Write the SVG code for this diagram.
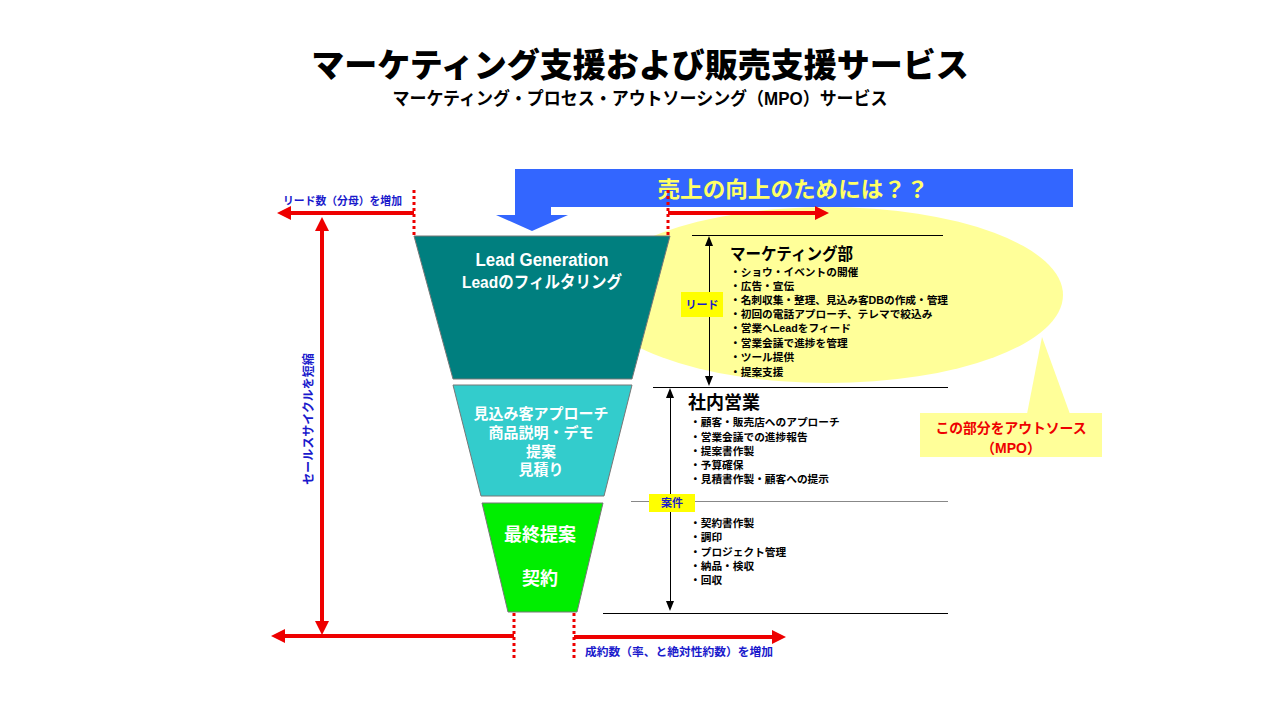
<svg xmlns="http://www.w3.org/2000/svg" width="1280" height="720" viewBox="0 0 1280 720">
<defs>
<style>
text{font-family:"Liberation Sans","Noto Sans CJK JP",sans-serif;font-weight:bold;dominant-baseline:central}
.c{text-anchor:middle}
.w{fill:#ffffff}
.k{fill:#000000}
.b{fill:#1a1acc}
.item{font-size:10.7px;fill:#000}
.red{stroke:#ee0000;stroke-width:4;fill:none}
.dot{stroke:#ee0000;stroke-width:3;stroke-dasharray:3 3;fill:none}
.rh{fill:#ee0000}
.ln{stroke:#000;stroke-width:1;fill:none;shape-rendering:crispEdges}
.fun{stroke:#777;stroke-width:1}
</style>
</defs>
<rect width="1280" height="720" fill="#ffffff"/>

<g id="title">
<text class="c k" x="640" y="65" font-size="33" font-weight="900" style="font-weight:900">マーケティング支援および販売支援サービス</text>
<text class="c k" x="640" y="99" font-size="18" textLength="495" lengthAdjust="spacingAndGlyphs">マーケティング・プロセス・アウトソーシング（MPO）サービス</text>
</g>

<g id="mpo-ellipse">
<polygon points="1042,337 1027,414 1070,414" fill="#ffff99"/>
<ellipse cx="828" cy="295" rx="235" ry="88" fill="#ffff99"/>
<rect x="920" y="413" width="182" height="44" fill="#ffff99"/>
<text class="c" x="1011" y="428" font-size="14" fill="#ee0000" textLength="151" lengthAdjust="spacingAndGlyphs">この部分をアウトソース</text>
<text class="c" x="1011" y="448" font-size="14" fill="#ee0000">（MPO）</text>
</g>

<g id="question-arrow">
<polygon points="515,169 1073,169 1073,207 551,207 551,215 568,215 532,231 496,215 515,215" fill="#3366ff"/>
<text class="c" x="793" y="189" font-size="22" fill="#ffff66" textLength="271" lengthAdjust="spacingAndGlyphs">売上の向上のためには？？</text>
</g>

<g id="funnel-lead">
<polygon class="fun" points="414,236 670,236 632,379 453,379" fill="#007f7f"/>
<text class="c w" x="542" y="260" font-size="18" textLength="133" lengthAdjust="spacingAndGlyphs">Lead Generation</text>
<text class="c w" x="542" y="282" font-size="17" textLength="160" lengthAdjust="spacingAndGlyphs">Leadのフィルタリング</text>
</g>

<g id="funnel-approach">
<polygon class="fun" points="453,385 632,385 604,496 481,496" fill="#33cccc"/>
<text class="c w" x="541" y="413" font-size="15">見込み客アプローチ</text>
<text class="c w" x="541" y="432" font-size="15">商品説明・デモ</text>
<text class="c w" x="541" y="451" font-size="15">提案</text>
<text class="c w" x="541" y="469" font-size="15">見積り</text>
</g>

<g id="funnel-contract">
<polygon class="fun" points="482,503 603,503 577,612 508,612" fill="#00ee00"/>
<text class="c w" x="540" y="535" font-size="18">最終提案</text>
<text class="c w" x="540" y="579" font-size="18">契約</text>
</g>

<g id="connectors">
<path class="dot" d="M414,190 V236"/>
<path class="red" d="M414,213 H288"/>
<polygon class="rh" points="277,213 291,206 291,220"/>
<path class="dot" d="M668,190 V236"/>
<path class="red" d="M668,213 H818"/>
<polygon class="rh" points="829,213 815,206 815,220"/>
<path class="red" d="M322,229 V623"/>
<polygon class="rh" points="322,217 315,231 329,231"/>
<polygon class="rh" points="322,635 315,621 329,621"/>
<path class="red" d="M514,636 H283"/>
<polygon class="rh" points="271,636 285,629 285,643"/>
<path class="dot" d="M514,613 V660"/>
<path class="dot" d="M574,613 V660"/>
<path class="red" d="M574,637 H774"/>
<polygon class="rh" points="786,637 772,630 772,644"/>
<path class="ln" d="M692,235 H943"/>
<path class="ln" d="M653,387 H948"/>
<path d="M631,501 H948" stroke="#888" stroke-width="1" shape-rendering="crispEdges"/>
<path class="ln" d="M603,613 H948"/>
<path class="ln" d="M709,244 V378"/>
<polygon points="709,236 705,246 713,246" fill="#000"/>
<polygon points="709,386 705,376 713,376" fill="#000"/>
<path class="ln" d="M670,396 V603"/>
<polygon points="670,388 666,398 674,398" fill="#000"/>
<polygon points="670,611 666,601 674,601" fill="#000"/>
</g>

<g id="label-lead-count">
<text class="b" x="283" y="201" font-size="11" textLength="119" lengthAdjust="spacingAndGlyphs">リード数（分母）を増加</text>
</g>
<g id="label-cycle">
<text class="c b" transform="translate(309,419) rotate(-90)" x="0" y="0" font-size="12">セールスサイクルを短縮</text>
</g>
<g id="label-contract-count">
<text class="b" x="585" y="652" font-size="11.5" textLength="188" lengthAdjust="spacingAndGlyphs">成約数（率、と絶対性約数）を増加</text>
</g>

<g id="tag-lead">
<rect x="681" y="292" width="42" height="25" fill="#ffff00"/>
<text class="c b" x="702" y="304.5" font-size="11">リード</text>
</g>
<g id="tag-deal">
<rect x="649" y="494" width="46" height="18" fill="#ffff00"/>
<text class="c b" x="672" y="503" font-size="11">案件</text>
</g>

<g id="marketing-dept">
<text class="k" x="730" y="254" font-size="17" textLength="123" lengthAdjust="spacingAndGlyphs">マーケティング部</text>
<text class="item" x="730" y="272">・ショウ・イベントの開催</text>
<text class="item" x="730" y="286">・広告・宣伝</text>
<text class="item" x="730" y="300" textLength="218" lengthAdjust="spacingAndGlyphs">・名刺収集・整理、見込み客DBの作成・管理</text>
<text class="item" x="730" y="314">・初回の電話アプローチ、テレマで絞込み</text>
<text class="item" x="730" y="328">・営業へLeadをフィード</text>
<text class="item" x="730" y="343">・営業会議で進捗を管理</text>
<text class="item" x="730" y="357">・ツール提供</text>
<text class="item" x="730" y="372">・提案支援</text>
</g>

<g id="inhouse-sales">
<text class="k" x="688" y="403" font-size="18">社内営業</text>
<text class="item" x="690" y="422">・顧客・販売店へのアプローチ</text>
<text class="item" x="690" y="437">・営業会議での進捗報告</text>
<text class="item" x="690" y="451">・提案書作製</text>
<text class="item" x="690" y="465">・予算確保</text>
<text class="item" x="690" y="479">・見積書作製・顧客への提示</text>
<text class="item" x="690" y="523">・契約書作製</text>
<text class="item" x="690" y="537">・調印</text>
<text class="item" x="690" y="552">・プロジェクト管理</text>
<text class="item" x="690" y="566">・納品・検収</text>
<text class="item" x="690" y="580">・回収</text>
</g>
</svg>
